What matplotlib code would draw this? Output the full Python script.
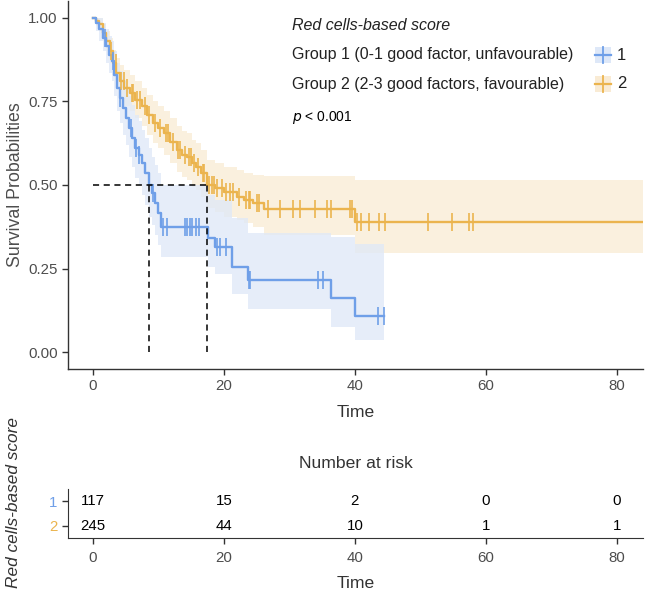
import numpy as np
import matplotlib
matplotlib.use("Agg")
import matplotlib.pyplot as plt
from matplotlib.patches import Rectangle
from matplotlib.lines import Line2D

plt.rcParams['font.family'] = ['Liberation Sans', 'DejaVu Sans']

# ---------------- data ----------------
# Group 1 (blue): step times, survival, lower CI, upper CI
g1_time = [0, 0.5, 1.0, 1.5, 2.0, 2.5, 2.9, 3.3, 3.7, 4.1, 4.6, 5.0, 5.5, 6.0, 6.5, 7.0, 7.5,
           8.0, 8.5, 9.0, 9.5, 10.0, 10.4, 17.6, 18.7, 21.2, 23.7, 36.3, 40.0]
g1_surv = [1.0, 0.983, 0.966, 0.94, 0.915, 0.89, 0.87, 0.83, 0.79, 0.76, 0.73, 0.70, 0.67, 0.64,
           0.61, 0.59, 0.565, 0.535, 0.50, 0.475, 0.445, 0.415, 0.375, 0.341, 0.315, 0.255, 0.215,
           0.163, 0.109]
g1_lo = [1.0, 0.96, 0.93, 0.90, 0.865, 0.835, 0.81, 0.765, 0.72, 0.685, 0.65, 0.62, 0.585, 0.555,
         0.52, 0.50, 0.47, 0.44, 0.405, 0.38, 0.35, 0.32, 0.285, 0.255, 0.235, 0.175, 0.13,
         0.076, 0.036]
g1_hi = [1.0, 1.0, 1.0, 0.985, 0.965, 0.945, 0.93, 0.90, 0.865, 0.84, 0.815, 0.79, 0.765, 0.74,
         0.71, 0.69, 0.665, 0.64, 0.61, 0.585, 0.56, 0.535, 0.50, 0.47, 0.455, 0.40, 0.357,
         0.345, 0.325]
g1_end = 44.4
g1_censor = [1.8, 3.0, 4.2, 5.8, 6.6, 7.0, 9.2, 10.7, 11.25, 14.05, 14.4, 14.8, 15.2, 15.7, 16.2,
             18.9, 19.4, 20.4, 23.8, 24.0, 34.4, 35.2, 43.6, 44.4]

# Group 2 (orange)
g2_time = [0, 0.5, 1.0, 1.5, 2.0, 2.6, 3.1, 3.6, 4.2, 4.8, 5.6, 6.5, 7.5, 8.3, 9.2, 10.0, 10.8,
           11.7, 12.8, 13.6, 14.3, 15.1, 15.8, 16.5, 17.4, 18.6, 20.0, 22.0, 23.0, 24.5, 26.2, 40.0]
g2_surv = [1.0, 0.99, 0.98, 0.955, 0.93, 0.90, 0.865, 0.835, 0.81, 0.79, 0.775, 0.755, 0.735,
           0.71, 0.685, 0.67, 0.655, 0.63, 0.605, 0.59, 0.585, 0.565, 0.555, 0.535, 0.50, 0.49,
           0.478, 0.465, 0.455, 0.445, 0.427, 0.39]
g2_lo = [1.0, 0.975, 0.96, 0.93, 0.90, 0.865, 0.825, 0.79, 0.76, 0.735, 0.72, 0.70, 0.675, 0.65,
         0.625, 0.61, 0.59, 0.565, 0.54, 0.525, 0.515, 0.495, 0.485, 0.465, 0.43, 0.42, 0.405,
         0.395, 0.385, 0.375, 0.35, 0.296]
g2_hi = [1.0, 1.0, 1.0, 0.98, 0.96, 0.94, 0.905, 0.88, 0.86, 0.845, 0.83, 0.81, 0.79, 0.77, 0.75,
         0.735, 0.72, 0.70, 0.675, 0.66, 0.655, 0.635, 0.625, 0.605, 0.575, 0.565, 0.555, 0.545,
         0.535, 0.53, 0.527, 0.515]
g2_end = 84.0
g2_censor = [2.8, 3.5, 4.3, 4.7, 5.2, 5.9, 6.2, 6.8, 7.2, 7.9, 8.6, 9.5, 10.3, 11.1, 11.4, 12.2,
             13.0, 13.3, 14.0, 14.6, 15.0, 15.4, 16.1, 16.8, 17.0, 17.8, 18.2, 18.5, 18.9, 19.7,
             20.3, 21.0, 21.4, 22.3, 23.4, 23.8, 24.0, 25.0, 25.3, 26.7, 28.5, 30.5, 31.6, 33.9,
             35.7, 36.4, 39.2, 39.6, 40.3, 41.0, 42.2, 43.7, 44.6, 51.2, 54.8, 57.4, 58.1]

medians = [8.6, 17.4]

risk_times = [0, 20, 40, 60, 80]
risk_g1 = [117, 15, 2, 0, 0]
risk_g2 = [245, 44, 10, 1, 1]

group_labels = ["Group 1 (0-1 good factor, unfavourable)", "Group 2 (2-3 good factors, favourable)"]
legend_title = "Red cells-based score"
strata = ["1", "2"]

blue = "#6F9FE8"
orange = "#EBB44E"
blue_band = "#DEE8F8"
orange_band = "#F9EBD4"

W, H = 645, 592
fig = plt.figure(figsize=(W / 100, H / 100), dpi=100)


def fx(px):
    return px / W


def fy(py):
    return 1 - py / H


grey_txt = "#4D4D4D"
dark = "#333333"

# ---------------- main plot ----------------
ax = fig.add_axes([fx(68), fy(369), fx(643) - fx(68), fy(1) - fy(369)])
ax.set_xlim(-3.8, 84)
ax.set_ylim(-0.05, 1.05)


def draw_group(t, s, lo, hi, end, cens, col, band):
    t = np.array(t + [end])
    s = np.array(s + [s[-1]])
    lo = np.array(lo + [lo[-1]])
    hi = np.array(hi + [hi[-1]])
    ax.fill_between(t, lo, hi, step='post', color=band, alpha=0.75, linewidth=0)
    ax.step(t, s, where='post', color=col, lw=1.7, zorder=3)
    c = np.array(cens)
    idx = np.searchsorted(t, c, side='right') - 1
    ax.plot(c, s[idx], linestyle='none', marker='|', ms=13, mew=1.2, color=col, zorder=4)


draw_group(g2_time, g2_surv, g2_lo, g2_hi, g2_end, g2_censor, orange, orange_band)
draw_group(g1_time, g1_surv, g1_lo, g1_hi, g1_end, g1_censor, blue, blue_band)

# median lines
ax.plot([0, max(medians)], [0.5, 0.5], ls=(0, (4, 3)), color='black', lw=1.1, zorder=5)
for m in medians:
    ax.plot([m, m], [0, 0.5], ls=(0, (4, 3)), color='black', lw=1.1, zorder=5)

ax.set_xticks([0, 20, 40, 60, 80])
ax.set_yticks([0, 0.25, 0.5, 0.75, 1.0])
ax.set_yticklabels(["0.00", "0.25", "0.50", "0.75", "1.00"])
ax.tick_params(labelsize=10.8, colors=dark, length=4, width=1)
for lab in ax.get_xticklabels() + ax.get_yticklabels():
    lab.set_color(grey_txt)
for sp in ['top', 'right']:
    ax.spines[sp].set_visible(False)
for sp in ['left', 'bottom']:
    ax.spines[sp].set_color(dark)
    ax.spines[sp].set_linewidth(1.0)
ax.set_xlabel("Time", fontsize=12.6, color=dark, labelpad=8)
ax.set_ylabel("Survival Probabilities", fontsize=12.8, color=grey_txt, labelpad=3)

# legend (manual)
fig.text(fx(292), fy(25), legend_title, fontsize=11.5, style='italic', color='#222222', va='center')
for i, (lab, col, band, st) in enumerate(zip(group_labels, [blue, orange], [blue_band, orange_band], strata)):
    yc = [55, 84][i]
    fig.text(fx(292), fy(yc), lab, fontsize=11.5, color='#222222', va='center')
    r = Rectangle((fx(595), fy(yc + 8)), fx(16), fy(0) - fy(16), transform=fig.transFigure,
                  color=band, lw=0)
    fig.add_artist(r)
    fig.add_artist(Line2D([fx(595), fx(611)], [fy(yc), fy(yc)], transform=fig.transFigure, color=col, lw=1.6))
    fig.add_artist(Line2D([fx(603), fx(603)], [fy(yc - 8), fy(yc + 8)], transform=fig.transFigure, color=col, lw=1.3))
    fig.text(fx(617), fy(yc), st, fontsize=12, color='#222222', va='center')

fig.text(fx(292), fy(117), r"$p$ < 0.001", fontsize=10, color='black', va='center')

# ---------------- risk table ----------------
rax = fig.add_axes([fx(68), fy(538), fx(643) - fx(68), fy(489) - fy(538)])
rax.set_xlim(-3.8, 84)
rax.set_ylim(0.5, 2.5)
for t, a, b in zip(risk_times, risk_g1, risk_g2):
    rax.text(t, 2, str(a), ha='center', va='center', fontsize=10.8, color='black')
    rax.text(t, 1, str(b), ha='center', va='center', fontsize=10.8, color='black')
rax.set_yticks([2, 1])
rax.set_yticklabels(strata)
rax.set_xticks(risk_times)
rax.tick_params(labelsize=10.8, length=4, width=1, colors=dark)
rax.tick_params(axis='x', pad=5)
for lbl, col in zip(rax.get_yticklabels(), [blue, orange]):
    lbl.set_color(col)
for xl in rax.get_xticklabels():
    xl.set_color(grey_txt)
for sp in ['top', 'right']:
    rax.spines[sp].set_visible(False)
for sp in ['left', 'bottom']:
    rax.spines[sp].set_color(dark)
rax.set_xlabel("Time", fontsize=12.6, color=dark, labelpad=8)
rax.set_title("Number at risk", fontsize=12.6, color=dark, pad=15)
fig.text(fx(14), fy(503), legend_title, rotation=90, style='italic', fontsize=12.4,
         color=dark, ha='center', va='center')

fig.savefig("out.png", dpi=100)
